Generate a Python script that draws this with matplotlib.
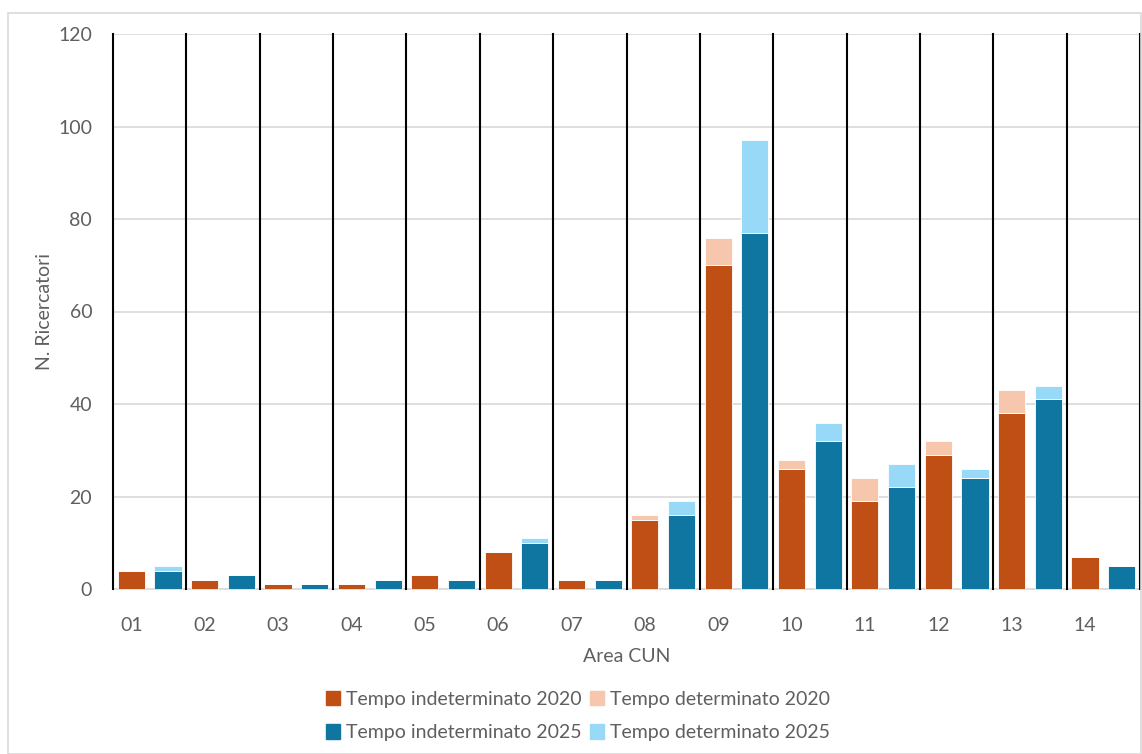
import matplotlib
matplotlib.use("Agg")
import matplotlib.pyplot as plt
import numpy as np
from matplotlib.patches import Rectangle, Patch

plt.rcParams['font.family'] = ['Lato', 'DejaVu Sans']

# Ricercatori per area CUN, 2020 vs 2025
aree = ['01', '02', '03', '04', '05', '06', '07', '08', '09', '10', '11', '12', '13', '14']
ind_2020 = [4, 2, 1, 1, 3, 8, 2, 15, 70, 26, 19, 29, 38, 7]
det_2020 = [0, 0, 0, 0, 0, 0, 0, 1, 6, 2, 5, 3, 5, 0]
ind_2025 = [4, 3, 1, 2, 2, 10, 2, 16, 77, 32, 22, 24, 41, 5]
det_2025 = [1, 0, 0, 0, 0, 1, 0, 3, 20, 4, 5, 2, 3, 0]

c_ind20 = '#C04F15'
c_det20 = '#F6C6AD'
c_ind25 = '#0E76A0'
c_det25 = '#97D9F6'
grey_txt = '#5F5F5F'

fig = plt.figure(figsize=(11.42, 7.54), dpi=100)
fig.patches.append(Rectangle((8 / 1142, 0), 1 - 8 / 1142 - 0.0005, 1 - 13 / 754,
                             transform=fig.transFigure, fill=False,
                             edgecolor='#D9D9D9', linewidth=1.2))
ax = fig.add_axes([113 / 1142, 1 - 589 / 754, (1140 - 113) / 1142, (589 - 34) / 754])

n = len(aree)
x20 = np.arange(n) * 2
x25 = x20 + 1
w = 0.74
ax.bar(x20, ind_2020, w, color=c_ind20, edgecolor='white', linewidth=0.6, zorder=3)
ax.bar(x20, det_2020, w, bottom=ind_2020, color=c_det20, edgecolor='white', linewidth=0.6, zorder=3)
ax.bar(x25, ind_2025, w, color=c_ind25, edgecolor='white', linewidth=0.6, zorder=3)
ax.bar(x25, det_2025, w, bottom=ind_2025, color=c_det25, edgecolor='white', linewidth=0.6, zorder=3)

# separatori verticali tra le aree
for s in np.arange(n + 1) * 2 - 0.5:
    ax.plot([s, s], [0, 120], color='black', linewidth=1.5, zorder=4, clip_on=False)

ax.set_xlim(-0.5, 2 * n - 0.5)
ax.set_ylim(0, 120)
ax.set_yticks(np.arange(0, 121, 20))
ax.yaxis.grid(True, color='#D9D9D9', linewidth=1.2, zorder=0)
ax.set_axisbelow(True)
ax.set_xticks(x20)
ax.set_xticklabels(aree)
ax.tick_params(axis='both', length=0, labelsize=14, colors=grey_txt)
ax.tick_params(axis='x', pad=20)
ax.tick_params(axis='y', pad=15)
for side in ['top', 'right', 'left']:
    ax.spines[side].set_visible(False)
ax.spines['bottom'].set_color('#D9D9D9')
ax.spines['bottom'].set_linewidth(1.2)

ax.set_xlabel('Area CUN', fontsize=14, color=grey_txt, labelpad=10)
ax.set_ylabel('N. Ricercatori', fontsize=14, color=grey_txt, labelpad=4)

handles = [Patch(color=c_ind20), Patch(color=c_ind25), Patch(color=c_det20), Patch(color=c_det25)]
labels = ['Tempo indeterminato 2020', 'Tempo indeterminato 2025',
          'Tempo determinato 2020', 'Tempo determinato 2025']
leg = fig.legend(handles, labels, ncol=2, loc='center', bbox_to_anchor=(578 / 1142, 1 - 716 / 754),
                 frameon=False, fontsize=14, handlelength=0.75, handleheight=0.75,
                 handletextpad=0.3, columnspacing=0.4, labelspacing=0.85)
for t in leg.get_texts():
    t.set_color(grey_txt)

fig.savefig('out.png', dpi=100)
